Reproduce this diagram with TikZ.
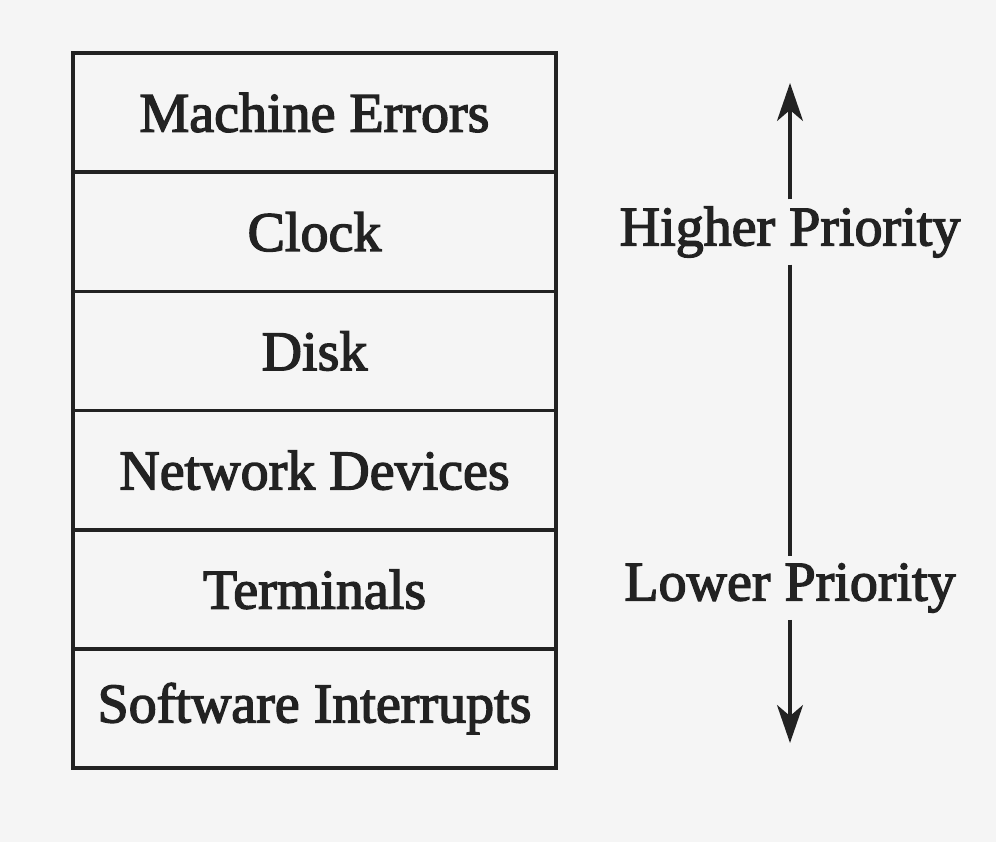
\documentclass[tikz,border=0pt]{standalone}
\usepackage{fontspec}
\setmainfont{Liberation Serif}
\newfontfamily\heavyserif{Liberation Serif}[FakeBold=2.5]
\usetikzlibrary{arrows.meta}
\definecolor{paper}{HTML}{F5F5F5}
\definecolor{ink}{HTML}{222222}
\tikzset{
  row/.style={draw=ink, line width=3.5pt, minimum width=483pt, minimum height=119.2pt, inner sep=0pt, anchor=center, text=ink, font=\fontsize{56}{60}\heavyserif},
  lbl/.style={text=ink, font=\fontsize{56}{60}\heavyserif, inner xsep=0pt, inner ysep=7pt},
  pri/.style={draw=ink, line width=3.2pt},
  tip/.style={-{Stealth[length=38pt,width=26pt,inset=11pt]}}
}
\begin{document}
\begin{tikzpicture}[x=1pt,y=-1pt]
\fill[paper] (0,0) rectangle (996,842);
\useasboundingbox (0,0) rectangle (996,842);
\node[row] (r1) at (314.5,112.6) {Machine Errors};
\node[row] (r2) at (314.5,231.8) {Clock};
\node[row] (r3) at (314.5,351.0) {Disk};
\node[row] (r4) at (314.5,470.2) {Network Devices};
\node[row] (r5) at (314.5,589.4) {Terminals};
\node[row] (r6) at (314.5,708.6) {Software Interrupts};
\node[lbl] (hi) at (790,232) {Higher Priority};
\node[lbl] (lo) at (790,588) {Lower Priority};
\coordinate (top) at (790,83);
\coordinate (bot) at (790,743);
\draw[pri,tip] (hi.north) -- (top);
\draw[pri] (hi.south) -- (lo.north);
\draw[pri,tip] (lo.south) -- (bot);
\end{tikzpicture}
\end{document}
